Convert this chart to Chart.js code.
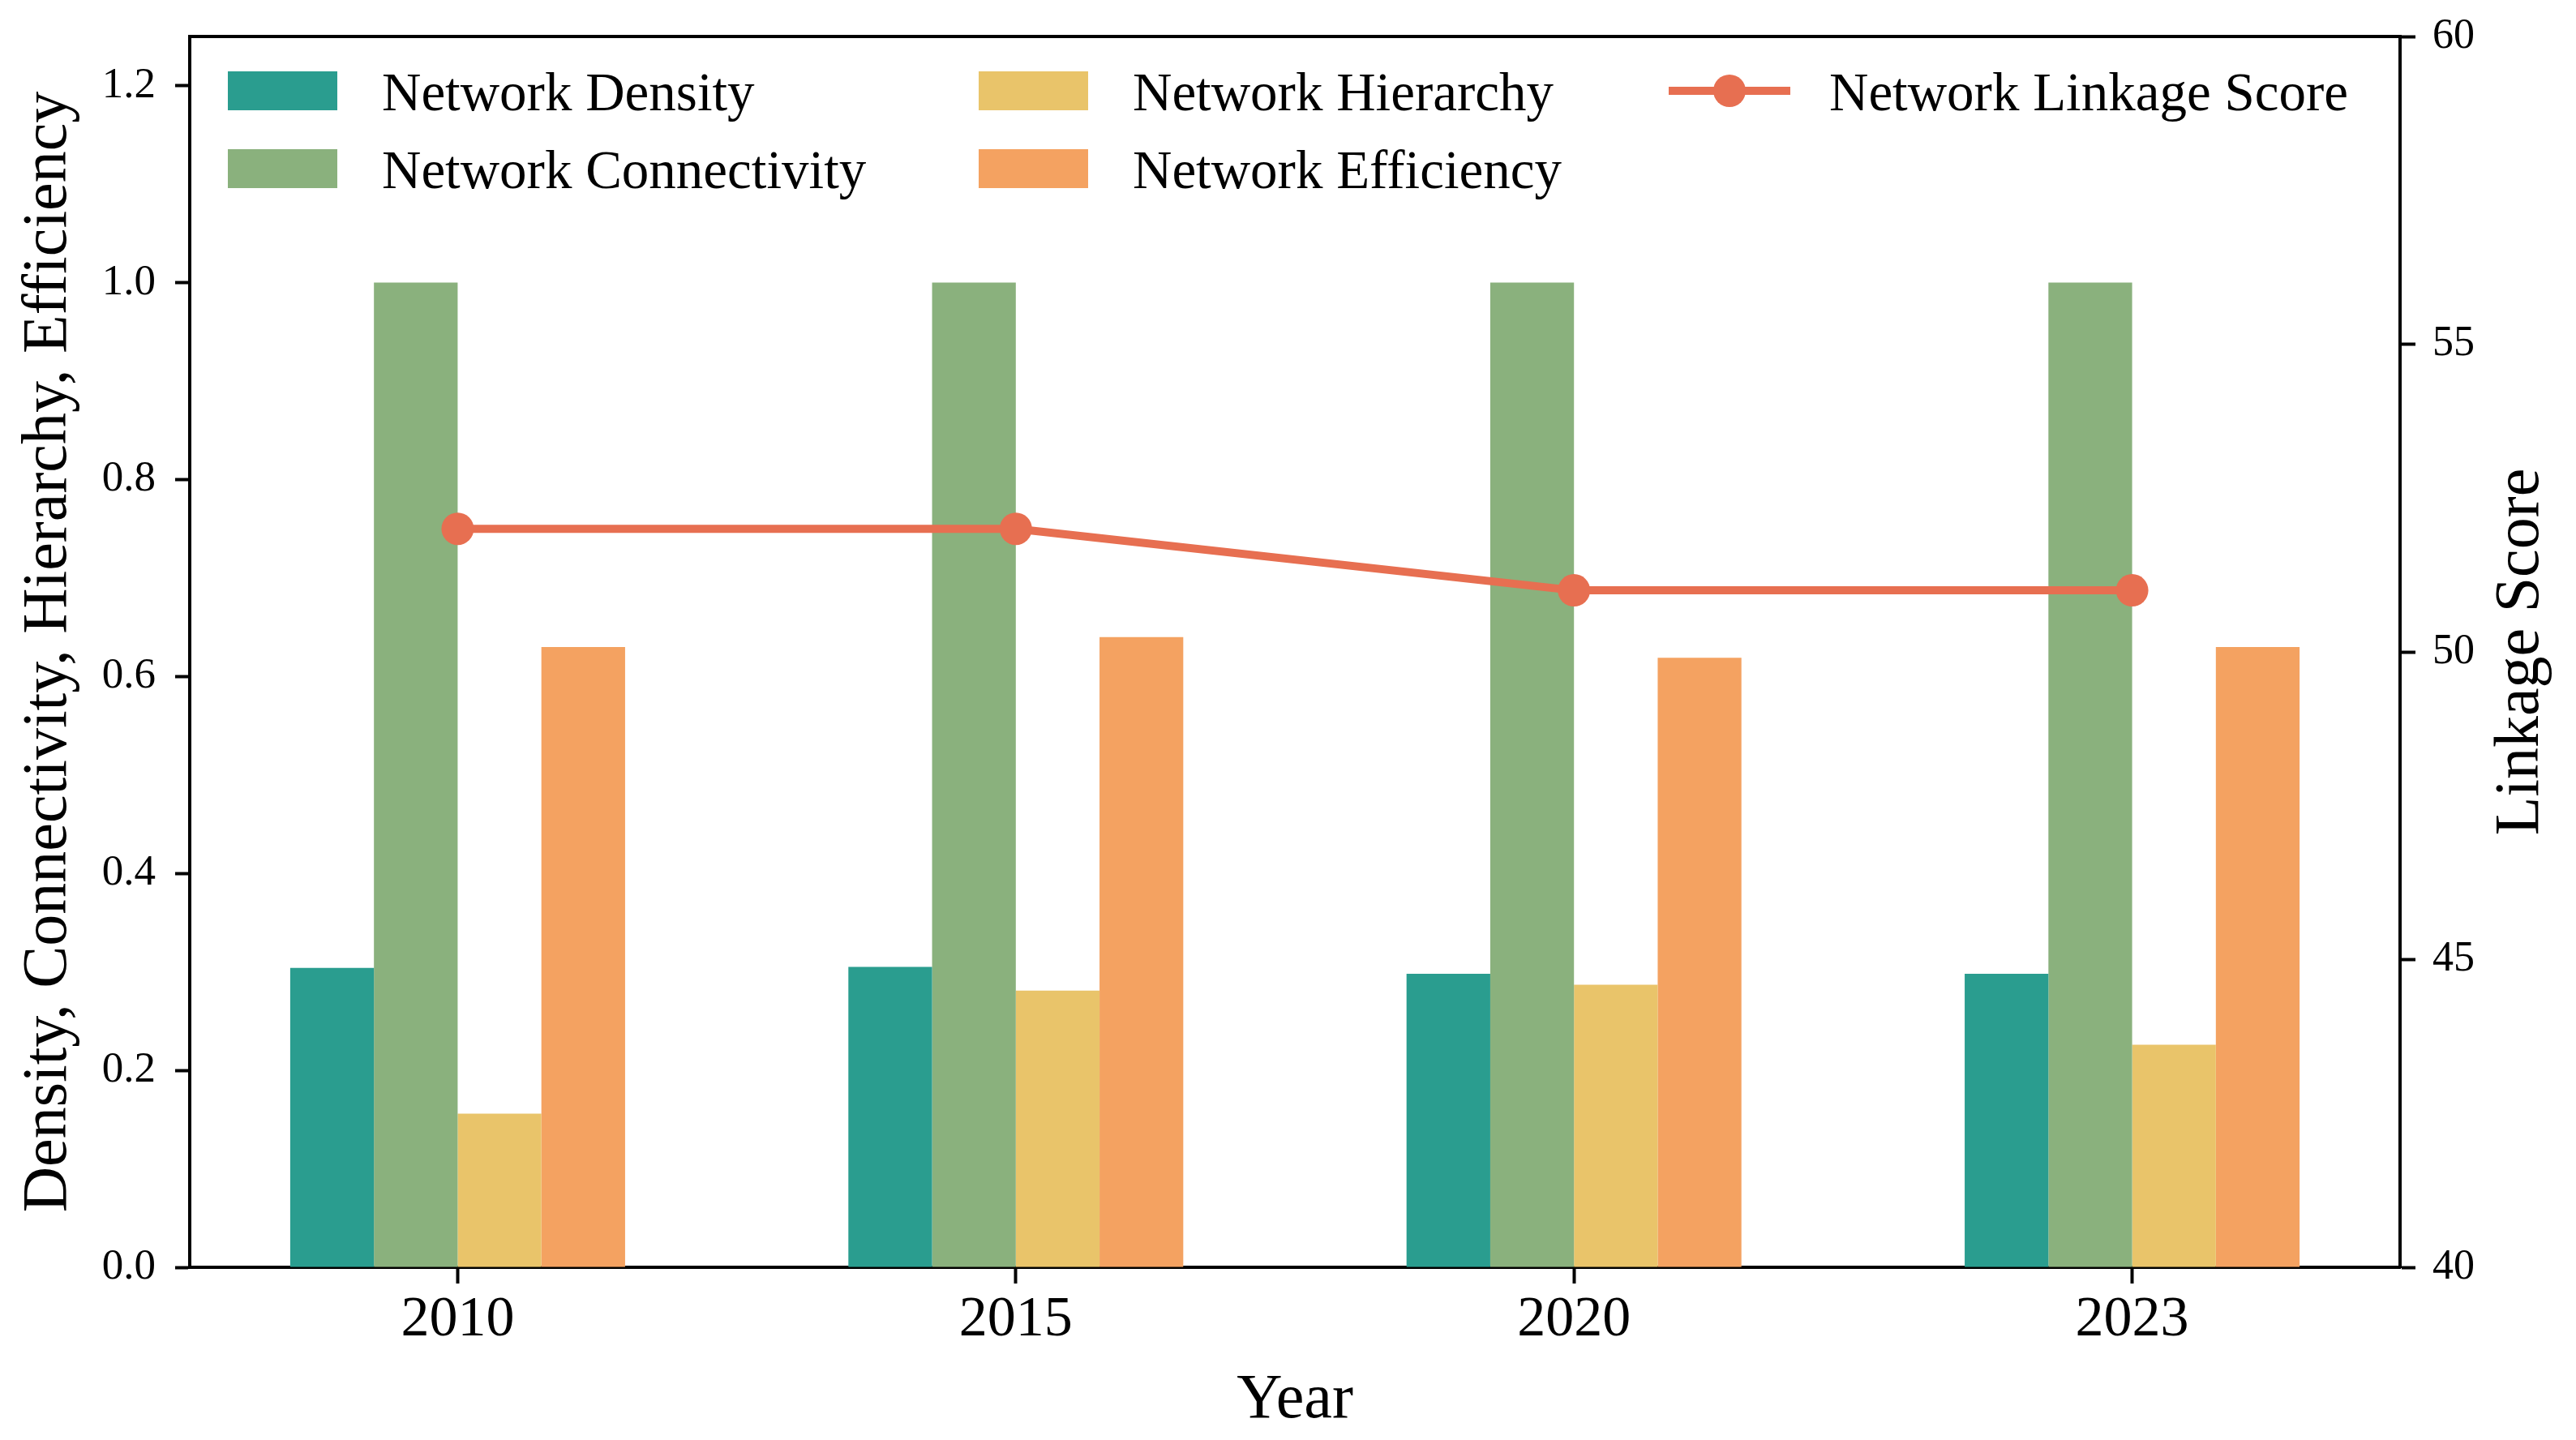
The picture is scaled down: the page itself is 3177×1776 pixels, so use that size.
<!DOCTYPE html>
<html>
<head>
<meta charset="utf-8">
<style>
    html, body { margin: 0; padding: 0; background: #fff; }
    #wrap { width: 3177px; height: 1776px; position: relative; }
</style>
</head>
<body>
<div id="wrap"><canvas id="chart"></canvas></div>
<script src="https://cdn.jsdelivr.net/npm/chart.js@4.4.0/dist/chart.umd.min.js"></script>
<script>
// data
const years = ['2010', '2015', '2020', '2023'];
const density = [0.304, 0.305, 0.298, 0.298];
const connectivity = [1.0, 1.0, 1.0, 1.0];
const hierarchy = [0.156, 0.281, 0.287, 0.226];
const efficiency = [0.630, 0.640, 0.619, 0.630];
const linkage = [52, 52, 51, 51];
const leftTicks = [0, 0.2, 0.4, 0.6, 0.8, 1.0, 1.2];
const rightTicks = [40, 45, 50, 55, 60];

const SERIF = "'Liberation Serif', 'Times New Roman', serif";
const COLORS = {
    density: '#2a9d8f',
    connectivity: '#8ab17d',
    hierarchy: '#e9c46a',
    efficiency: '#f4a261',
    linkage: '#e76f51',
};

const toPoints = (arr) => arr.map((v, i) => ({ x: i, y: v }));

function barSet(label, values, color) {
    return {
        type: 'bar',
        label: label,
        data: toPoints(values),
        backgroundColor: color,
        borderWidth: 0,
        categoryPercentage: 0.6,
        barPercentage: 1.0,
        yAxisID: 'y',
        order: 1,
    };
}

// top spine, right title and the 3-column legend
const framePlugin = {
    id: 'frame',
    afterDraw(chart) {
        const { ctx, chartArea } = chart;
        ctx.save();
        ctx.strokeStyle = '#000';
        ctx.lineWidth = 4;
        ctx.beginPath();
        ctx.moveTo(chartArea.left - 2, chartArea.top);
        ctx.lineTo(chartArea.right + 2, chartArea.top);
        ctx.stroke();

        // right axis title, reads bottom-to-top
        ctx.translate(3110, (chartArea.top + chartArea.bottom) / 2);
        ctx.rotate(-Math.PI / 2);
        ctx.fillStyle = '#000';
        ctx.font = '78px ' + SERIF;
        ctx.textAlign = 'center';
        ctx.textBaseline = 'middle';
        ctx.fillText('Linkage Score', 0, 0);
        ctx.restore();

        const ds = chart.data.datasets;
        const slots = [
            { x: 281, y: 88 },   // density
            { x: 281, y: 184 },  // connectivity
            { x: 1207, y: 88 },  // hierarchy
            { x: 1207, y: 184 }, // efficiency
            { x: 2058, y: 88 },  // linkage
        ];
        ctx.save();
        ctx.font = '67px ' + SERIF;
        ctx.textBaseline = 'alphabetic';
        ctx.textAlign = 'left';
        ds.forEach((d, i) => {
            const s = slots[i];
            if (d.type === 'line') {
                ctx.strokeStyle = d.borderColor;
                ctx.lineWidth = d.borderWidth;
                ctx.beginPath();
                ctx.moveTo(s.x, s.y + 24);
                ctx.lineTo(s.x + 150, s.y + 24);
                ctx.stroke();
                ctx.fillStyle = d.pointBackgroundColor;
                ctx.beginPath();
                ctx.arc(s.x + 75, s.y + 24, d.pointRadius, 0, Math.PI * 2);
                ctx.fill();
                ctx.fillStyle = '#000';
                ctx.fillText(d.label, s.x + 198, s.y + 48);
            } else {
                ctx.fillStyle = d.backgroundColor;
                ctx.fillRect(s.x, s.y, 135, 48);
                ctx.fillStyle = '#000';
                ctx.fillText(d.label, s.x + 190, s.y + 48);
            }
        });
        ctx.restore();
    }
};

// vertical scales otherwise reserve half a label + tick padding above the plot
function fixedWidth(w) {
    return function (scale) {
        scale.width = w;
        scale.paddingTop = 0;
        scale.paddingBottom = 0;
    };
}

const ctx = document.getElementById('chart').getContext('2d');
new Chart(ctx, {
    data: {
        datasets: [
            barSet('Network Density', density, COLORS.density),
            barSet('Network Connectivity', connectivity, COLORS.connectivity),
            barSet('Network Hierarchy', hierarchy, COLORS.hierarchy),
            barSet('Network Efficiency', efficiency, COLORS.efficiency),
            {
                type: 'line',
                label: 'Network Linkage Score',
                data: toPoints(linkage),
                borderColor: COLORS.linkage,
                backgroundColor: COLORS.linkage,
                pointBackgroundColor: COLORS.linkage,
                borderWidth: 10,
                pointRadius: 20,
                pointBorderWidth: 0,
                tension: 0,
                yAxisID: 'y2',
                order: 0,
            },
        ],
    },
    options: {
        responsive: true,
        maintainAspectRatio: false,
        animation: false,
        devicePixelRatio: 1,
        layout: { padding: { top: 45, left: 0, right: 0, bottom: 0 } },
        plugins: {
            legend: { display: false },
            tooltip: { enabled: false },
        },
        scales: {
            x: {
                type: 'linear',
                min: -0.48,
                max: 3.48,
                offset: false,
                z: 1,
                afterBuildTicks(scale) {
                    scale.ticks = years.map((_, i) => ({ value: i }));
                },
                afterFit(scale) { scale.height = 213; },
                ticks: {
                    color: '#000',
                    font: { family: SERIF, size: 70 },
                    padding: 4,
                    callback: (v) => years[v],
                },
                grid: {
                    offset: false,
                    drawOnChartArea: false,
                    drawTicks: true,
                    tickLength: 20,
                    tickWidth: 4,
                    tickColor: '#000',
                },
                border: { display: true, color: '#000', width: 4 },
                title: {
                    display: true,
                    text: 'Year',
                    color: '#000',
                    font: { family: SERIF, size: 78, lineHeight: 1 },
                    padding: { top: 0, bottom: 9 },
                },
            },
            y: {
                type: 'linear',
                position: 'left',
                min: 0,
                max: 1.25,
                z: 1,
                afterBuildTicks(scale) {
                    scale.ticks = leftTicks.map((v) => ({ value: v }));
                },
                afterFit: fixedWidth(234),
                ticks: {
                    color: '#000',
                    font: { family: SERIF, size: 53 },
                    padding: 24,
                    callback: (v) => Number(v).toFixed(1),
                },
                grid: {
                    drawOnChartArea: false,
                    drawTicks: true,
                    tickLength: 18,
                    tickWidth: 4,
                    tickColor: '#000',
                },
                border: { display: true, color: '#000', width: 4 },
                title: {
                    display: true,
                    text: 'Density, Connectivity, Hierarchy, Efficiency',
                    color: '#000',
                    font: { family: SERIF, size: 78, lineHeight: 1 },
                    padding: { top: 22, bottom: 0 },
                },
            },
            y2: {
                type: 'linear',
                position: 'right',
                min: 40,
                max: 60,
                z: 1,
                afterBuildTicks(scale) {
                    scale.ticks = rightTicks.map((v) => ({ value: v }));
                },
                afterFit: fixedWidth(217),
                ticks: {
                    color: '#000',
                    font: { family: SERIF, size: 52 },
                    padding: 21,
                },
                grid: {
                    drawOnChartArea: false,
                    drawTicks: true,
                    tickLength: 19,
                    tickWidth: 4,
                    tickColor: '#000',
                },
                border: { display: true, color: '#000', width: 4 },
            },
        },
    },
    plugins: [framePlugin],
});
</script>
</body>
</html>
